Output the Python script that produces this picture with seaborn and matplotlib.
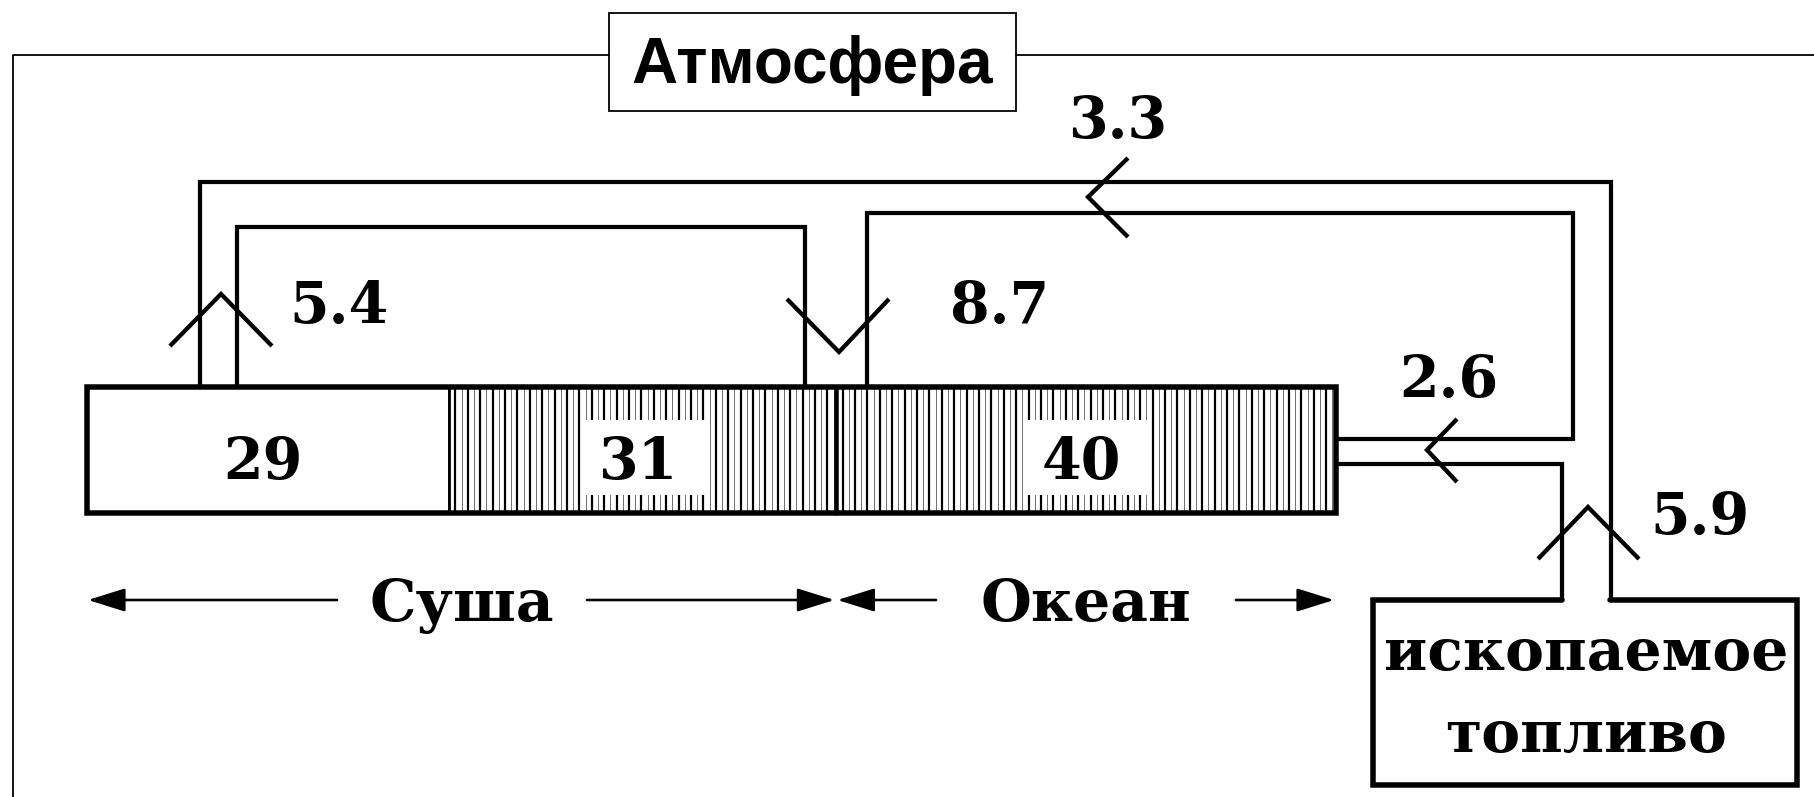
import numpy as np
import matplotlib
matplotlib.use('Agg')
import matplotlib.pyplot as plt
from matplotlib.patches import Rectangle
import seaborn as sns

sns.set_theme(style='white')
plt.rcParams['font.family'] = ['DejaVu Serif', 'DejaVu Sans']
plt.rcParams['text.color'] = 'black'

# --- data ---
shares = [29, 31, 40]                 # % of carbon in each reservoir box
share_labels = ['29', '31', '40']
hatched = [False, True, True]
regions = ['Суша', 'Океан']
region_shares = [60, 40]
flux_labels = ['5.4', '8.7', '3.3', '2.6', '5.9']
fuel_label = ['ископаемое', 'топливо']
title = 'Атмосфера'

# --- layout (pixels of the 1814x797 picture) ---
W, H = 1814, 797
PX = 0.72                      # points per pixel at dpi=100
BAR_X0, BAR_X1 = 87, 1336
BAR_TOP, BAR_BOT = 387, 513
k = (BAR_X1 - BAR_X0) / sum(shares)

fig = plt.figure(figsize=(W / 100, H / 100), dpi=100)
ax = fig.add_axes([0, 0, 1, 1])
ax.set_xlim(0, W)
ax.set_ylim(H, 0)
ax.axis('off')

# outer frame + "Атмосфера" box
ax.plot([12.7, 12.7, 609], [H, 55, 55], color='black', lw=1.8 * PX)
ax.plot([1016, W], [55, 55], color='black', lw=1.8 * PX)
ax.add_patch(Rectangle((609, 13), 1016 - 609, 111 - 13, fill=False,
                       ec='black', lw=1.8 * PX))
ax.text(812, 83, title, ha='center', va='baseline', fontsize=46,
        fontweight='bold', family=['Liberation Sans', 'DejaVu Sans'])

# stacked bar of reservoirs
lefts = BAR_X0 + k * np.concatenate([[0], np.cumsum(shares)[:-1]])
widths = k * np.array(shares)
yc = (BAR_TOP + BAR_BOT) / 2
ax.barh(yc, widths, left=lefts, height=BAR_BOT - BAR_TOP,
        color='white', edgecolor='black', linewidth=2.8 * PX, zorder=1)

for left, width, hat in zip(lefts, widths, hatched):
    if not hat:
        continue
    xs = np.arange(left + 6.2, left + width - 1, 6.2)
    major = np.arange(len(xs)) % 2 == 0
    ax.vlines(xs[major], BAR_TOP, BAR_BOT, colors='black',
              linewidths=2.2 * PX, zorder=2)
    ax.vlines(xs[~major], BAR_TOP, BAR_BOT, colors='0.45',
              linewidths=1.0 * PX, zorder=2)

centers = lefts + widths / 2
for cx, lab, hat in zip(centers, share_labels, hatched):
    if hat:
        ax.add_patch(Rectangle((cx - 62, 420), 124, 75, fc='white',
                               ec='none', zorder=3))
    ax.text(cx - 5, 479, lab, ha='center', va='baseline', fontsize=41,
            fontweight='bold', zorder=4)

ax.add_patch(Rectangle((BAR_X0, BAR_TOP), BAR_X1 - BAR_X0, BAR_BOT - BAR_TOP,
                       fill=False, ec='black', lw=5.5 * PX, zorder=5))
land_edge = BAR_X0 + k * region_shares[0]
ax.plot([land_edge, land_edge], [BAR_TOP, BAR_BOT], color='black',
        lw=4.5 * PX, zorder=5)

# flux pipes
pipe = dict(color='black', lw=4.2 * PX, solid_joinstyle='miter', zorder=1)
ax.plot([199.5, 199.5, 1611, 1611], [BAR_TOP, 182, 182, 599], **pipe)
ax.plot([237, 237, 805, 805], [BAR_TOP, 227, 227, BAR_TOP], **pipe)
ax.plot([867, 867, 1573, 1573, BAR_X1], [BAR_TOP, 213, 213, 439, 439], **pipe)
ax.plot([BAR_X1, 1562, 1562], [464, 464, 599], **pipe)

# chevrons (apex, arm dx, arm dy)
chev = [((221, 294), (-51, 52), (51, 52)),
        ((839, 352), (-52, -53), (50, -53)),
        ((1088, 197), (40, -39), (40, 40)),
        ((1427, 450), (30, -31), (30, 32)),
        ((1588, 507), (-50, 52), (51, 52))]
for (ax0, ay0), a1, a2 in chev:
    ax.plot([ax0 + a1[0], ax0, ax0 + a2[0]], [ay0 + a1[1], ay0, ay0 + a2[1]],
            color='black', lw=4.3 * PX, solid_joinstyle='miter',
            solid_capstyle='butt', zorder=6)

flux_pos = [(339, 323), (1000, 323), (1118, 138), (1449, 397), (1700, 534)]
for (x, y), lab in zip(flux_pos, flux_labels):
    ax.text(x, y, lab, ha='center', va='baseline', fontsize=41,
            fontweight='bold')

# region arrows
region_gap = [125, 150]
region_mid = [462, 1086]
edges = BAR_X0 + k * np.concatenate([[0], np.cumsum(region_shares)])
arrow = dict(arrowstyle='-|>,head_length=1.15,head_width=0.36',
             color='black', lw=2.6 * PX, shrinkA=0, shrinkB=0,
             mutation_scale=20)
for i, name in enumerate(regions):
    x_l, x_r = edges[i] + 1, edges[i + 1] - 2
    mid, gap = region_mid[i], region_gap[i]
    ax.annotate('', xy=(x_l, 600), xytext=(mid - gap, 600), arrowprops=arrow)
    ax.annotate('', xy=(x_r, 600), xytext=(mid + gap, 600), arrowprops=arrow)
    ax.text(mid, 621, name, ha='center', va='baseline', fontsize=42,
            fontweight='bold')

# fossil fuel box
ax.plot([1562, 1373, 1373, 1797, 1797, 1610],
        [600, 600, 785, 785, 600, 600], color='black', lw=5.5 * PX,
        solid_joinstyle='miter')
ax.text(1586, 670, fuel_label[0], ha='center', va='baseline', fontsize=42,
        fontweight='bold')
ax.text(1586, 752, fuel_label[1], ha='center', va='baseline', fontsize=42,
        fontweight='bold')

fig.savefig('out.png', dpi=100, facecolor='white')
